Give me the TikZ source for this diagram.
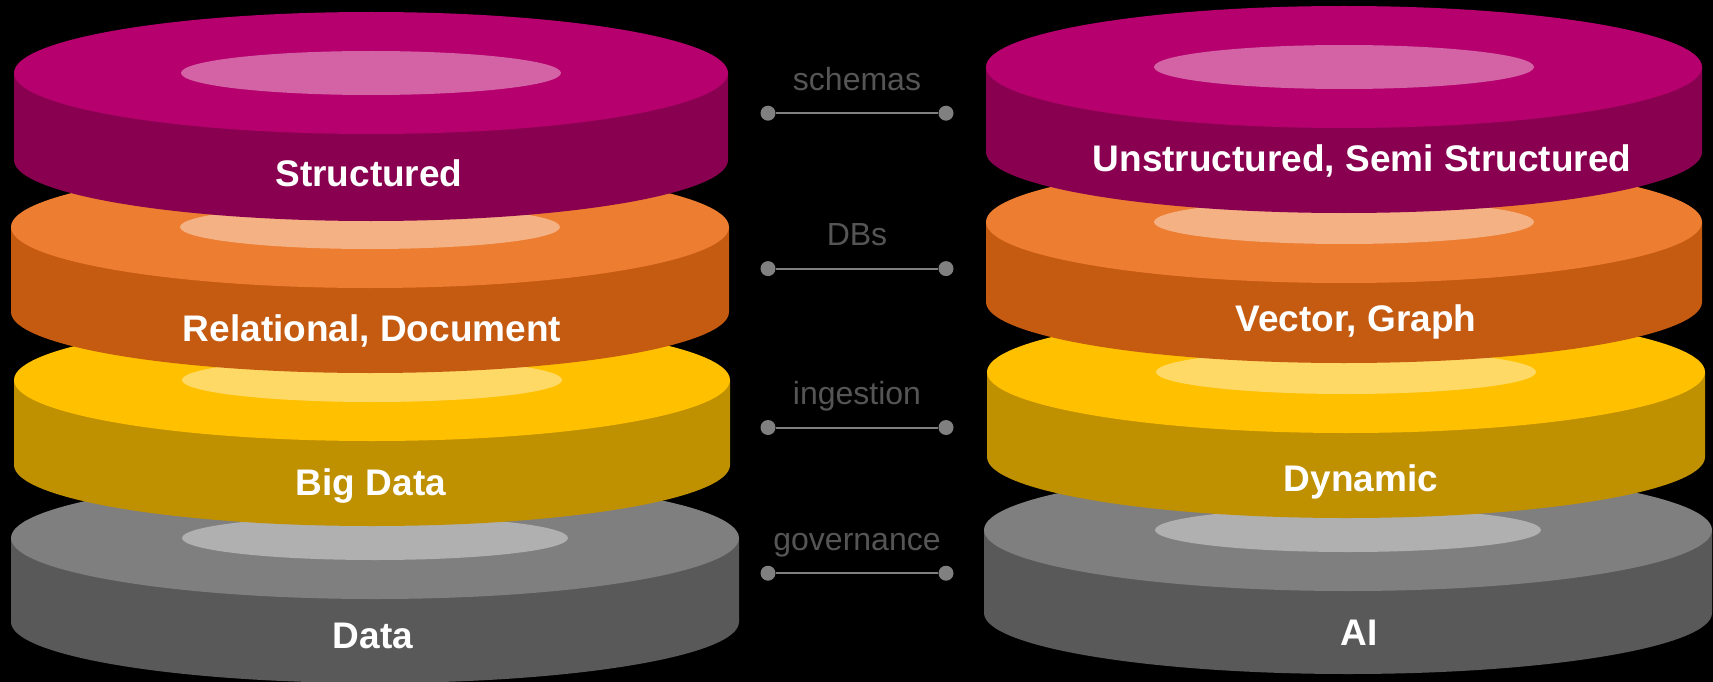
\documentclass[tikz,border=0pt]{standalone}
\usepackage{fontspec}
\setmainfont{Liberation Sans}
\usepackage{tikz}
\usetikzlibrary{positioning}
\definecolor{magtop}{HTML}{B5006E}
\definecolor{magside}{HTML}{8A0050}
\definecolor{magin}{HTML}{D463A6}
\definecolor{orgtop}{HTML}{ED7D31}
\definecolor{orgside}{HTML}{C55A11}
\definecolor{orgin}{HTML}{F4B183}
\definecolor{yeltop}{HTML}{FFC000}
\definecolor{yelside}{HTML}{BF9000}
\definecolor{yelin}{HTML}{FFD966}
\definecolor{grytop}{HTML}{7F7F7F}
\definecolor{gryside}{HTML}{595959}
\definecolor{gryin}{HTML}{B0B0B0}
\definecolor{linkgray}{HTML}{808080}
\definecolor{lblgray}{HTML}{555555}
\newcommand{\layerdisk}[8]{%
\fill[#6] ({#1-#3},#2) -- ++(0,#4) arc[start angle=180,end angle=0,x radius=#3,y radius=61] -- ({#1+#3},#2) -- cycle;
\fill[#5] (#1,#2) ellipse[x radius=#3,y radius=61];
\fill[#7] (#1,#2) ellipse[x radius=#8,y radius=22];}
\tikzset{
layertext/.style={anchor=base,text=white,inner sep=0pt,font=\bfseries\fontsize{37}{40}\selectfont},
linkdot/.style={circle,fill=linkgray,minimum size=15pt,inner sep=0pt},
linklabel/.style={anchor=base,text=lblgray,inner sep=0pt,yshift=23pt,font=\fontsize{32}{36}\selectfont}
}
\begin{document}
\begin{tikzpicture}[x=1pt,y=-1pt]
\useasboundingbox (0,0) rectangle (1713,682);
\fill[black] (0,0) rectangle (1713,682);
\layerdisk{375}{538}{364}{84}{grytop}{gryside}{gryin}{193}
\layerdisk{372}{380}{358}{85}{yeltop}{yelside}{yelin}{190}
\layerdisk{370}{227}{359}{85}{orgtop}{orgside}{orgin}{190}
\layerdisk{371}{73}{357}{87}{magtop}{magside}{magin}{190}
\layerdisk{1348}{530}{364}{83}{grytop}{gryside}{gryin}{193}
\layerdisk{1346}{372}{359}{85}{yeltop}{yelside}{yelin}{190}
\layerdisk{1344}{222}{358}{80}{orgtop}{orgside}{orgin}{190}
\layerdisk{1344}{67}{358}{85}{magtop}{magside}{magin}{190}
\node[layertext] (structured) at (369,186.7) {Structured};
\node[layertext] (relational) at (372,341.7) {Relational, Document};
\node[layertext] (bigdata) at (371,495.7) {Big Data};
\node[layertext] (data) at (373,648) {Data};
\node[layertext] (unstructured) at (1362,171.7) {Unstructured, Semi Structured};
\node[layertext] (vectorgraph) at (1356,331.7) {Vector, Graph};
\node[layertext] (dynamic) at (1361,491.7) {Dynamic};
\node[layertext] (ai) at (1359,645) {AI};
\foreach \n/\y/\t in {schema/113.2/schemas,db/268.6/DBs,ingest/427.5/ingestion,gov/573.2/governance}{
\node[linkdot] (\n L) at (768,\y) {};
\node[linkdot] (\n R) at (946,\y) {};
\draw[linkgray,line width=2pt] (\n L) -- node[linklabel] {\t} (\n R);
}
\end{tikzpicture}
\end{document}
